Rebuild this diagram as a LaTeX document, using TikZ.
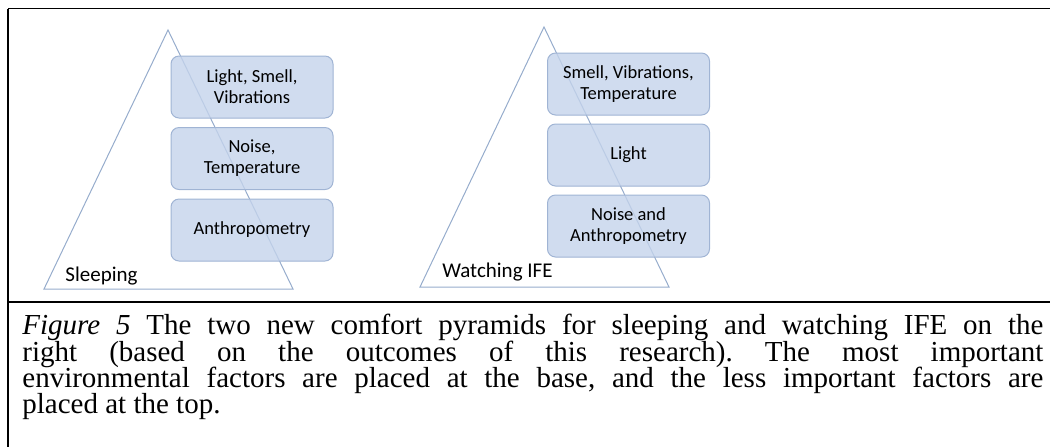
\documentclass[tikz,border=0pt]{standalone}
\usepackage{fontspec}
\setmainfont{Liberation Serif}
\newfontfamily\calibri{Carlito}
\usetikzlibrary{positioning}
\definecolor{boxfill}{RGB}{196,211,235}
\definecolor{boxline}{RGB}{160,180,212}
\definecolor{pyrline}{RGB}{150,172,204}
\tikzstyle{level}=[rectangle,rounded corners=4pt,fill=boxfill,fill opacity=0.8,text opacity=1,draw=boxline,line width=0.5pt,minimum width=81pt,minimum height=31pt,inner sep=1pt,align=center,font=\calibri\fontsize{9.25pt}{10.5pt}\selectfont]
\tikzstyle{pyramid}=[draw=pyrline,line width=0.5pt]
\tikzstyle{activity}=[anchor=base west,inner sep=0pt,font=\calibri\fontsize{10.5pt}{12pt}\selectfont]
\tikzstyle{capline}=[anchor=base west,inner sep=0pt,font=\fontsize{14.5pt}{13pt}\selectfont\frenchspacing]
\tikzstyle{frame}=[line width=0.8pt]
\def\blockdist{4.25pt}
\def\capwidth{510.5pt}

\begin{document}
\begin{tikzpicture}[x=0.5pt,y=-0.5pt]
	\useasboundingbox (0,0) rectangle (1050,447);

	% frame
	\coordinate (ftl) at (8,8.5);
	\coordinate (ftr) at (1050,8.5);
	\coordinate (fbl) at (8,447);
	\coordinate (fml) at (8,302);
	\coordinate (fmr) at (1050,302);
	\draw[frame] (ftl) -- (ftr);
	\draw[frame,line width=1pt] (ftl) -- (fbl);
	\draw[frame] (fml) -- (fmr);

	% Sleeping
	\coordinate (sa) at (168,30);
	\coordinate (sl) at (44,289);
	\coordinate (sr) at (293,289);
	\draw[pyramid] (sa) -- (sr) -- (sl) -- cycle;
	\node[level] (s1) at (252,87) {Light, Smell,\\Vibrations};
	\node[level,below=\blockdist of s1] (s2) {Noise,\\Temperature};
	\node[level,below=\blockdist of s2] (s3) {Anthropometry};
	\node[activity] (sleep) at (65,281) {Sleeping};

	% Watching IFE
	\coordinate (wa) at (544,27);
	\coordinate (wl) at (420,287);
	\coordinate (wr) at (669,287);
	\draw[pyramid] (wa) -- (wr) -- (wl) -- cycle;
	\node[level] (w1) at (628.5,84) {Smell, Vibrations,\\Temperature};
	\node[level,below=4pt of w1] (w2) {Light};
	\node[level,below=4pt of w2] (w3) {Noise and\\Anthropometry};
	\node[activity] (watch) at (442,277) {Watching IFE};

	% caption
	\node[capline] (cap1) at (22,334) {\makebox[\capwidth][s]{\textit{Figure 5} The two new comfort pyramids for sleeping and watching IFE on the}};
	\node[capline] (cap2) at (22,361) {\makebox[\capwidth][s]{right (based on the outcomes of this research). The most important}};
	\node[capline] (cap3) at (22,387) {\makebox[\capwidth][s]{environmental factors are placed at the base, and the less important factors are}};
	\node[capline] (cap4) at (22,413) {placed at the top.};
\end{tikzpicture}
\end{document}
